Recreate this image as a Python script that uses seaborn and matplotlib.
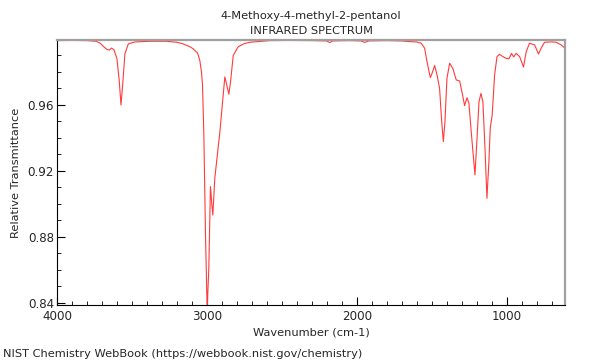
import numpy as np
import pandas as pd
import matplotlib
matplotlib.use("Agg")
import matplotlib.pyplot as plt
import seaborn as sns
from matplotlib.ticker import MultipleLocator

# spectrum points (wavenumber, relative transmittance)
wavenumber = [
    4000, 3900, 3800, 3740, 3713, 3690, 3665, 3651, 3636, 3620, 3600, 3585, 3573,
    3562, 3547, 3524, 3480, 3380, 3270, 3200, 3158, 3113, 3091, 3062, 3047, 3036,
    3029, 3020, 3009, 2998, 2987, 2976, 2967, 2960, 2947, 2913, 2891, 2880, 2867,
    2853, 2842, 2824, 2791, 2750, 2713, 2647, 2580, 2450, 2300, 2200, 2180, 2160,
    2050, 1970, 1947, 1920, 1800, 1700, 1647, 1600, 1569, 1547, 1531, 1509, 1498,
    1480, 1464, 1447, 1433, 1422, 1411, 1398, 1380, 1358, 1336, 1313, 1298, 1280,
    1264, 1251, 1236, 1211, 1196, 1184, 1171, 1158, 1144, 1131, 1118, 1109, 1096,
    1080, 1064, 1047, 1036, 1013, 1000, 984, 967, 953, 936, 913, 887, 869, 847,
    813, 787, 769, 747, 700, 669, 636, 610,
]
transmittance = [
    0.9990, 0.9991, 0.9990, 0.9986, 0.9975, 0.9955, 0.9935, 0.9933, 0.9945, 0.9935,
    0.9880, 0.9750, 0.9600, 0.9720, 0.9909, 0.9970, 0.9982, 0.9986, 0.9986, 0.9980,
    0.9970, 0.9953, 0.9940, 0.9915, 0.9870, 0.9800, 0.9720, 0.9418, 0.8810, 0.8360,
    0.8610, 0.9105, 0.9000, 0.8933, 0.9156, 0.9438, 0.9660, 0.9770, 0.9720, 0.9665,
    0.9740, 0.9900, 0.9953, 0.9972, 0.9980, 0.9985, 0.9990, 0.9991, 0.9990, 0.9988,
    0.9978, 0.9988, 0.9990, 0.9988, 0.9979, 0.9988, 0.9990, 0.9988, 0.9984, 0.9982,
    0.9974, 0.9944, 0.9863, 0.9766, 0.9790, 0.9839, 0.9782, 0.9700, 0.9500, 0.9378,
    0.9500, 0.9760, 0.9853, 0.9820, 0.9752, 0.9745, 0.9680, 0.9596, 0.9644, 0.9610,
    0.9438, 0.9176, 0.9418, 0.9620, 0.9670, 0.9620, 0.9337, 0.9034, 0.9256, 0.9459,
    0.9540, 0.9780, 0.9893, 0.9907, 0.9900, 0.9887, 0.9882, 0.9880, 0.9913, 0.9891,
    0.9913, 0.9893, 0.9830, 0.9923, 0.9974, 0.9964, 0.9909, 0.9944, 0.9980, 0.9982,
    0.9980, 0.9964, 0.9944,
]

spectrum = pd.DataFrame({"Wavenumber": wavenumber, "Transmittance": transmittance})

sns.set_style("white")
plt.rcParams["font.family"] = ["DejaVu Sans"]
plt.rcParams["font.size"] = 8.2

fig = plt.figure(figsize=(6, 3.6), dpi=100)
ax = fig.add_axes([0.095, 0.153, 0.8467, 0.736])

sns.lineplot(data=spectrum, x="Wavenumber", y="Transmittance", color="#ff3b3b",
             linewidth=0.8, ax=ax)

ax.set_xlim(4000, 610)
ax.set_ylim(0.8388, 0.9994)

ax.xaxis.set_major_locator(MultipleLocator(1000))
ax.xaxis.set_minor_locator(MultipleLocator(100))
ax.yaxis.set_major_locator(MultipleLocator(0.04))
ax.yaxis.set_minor_locator(MultipleLocator(0.01))
ax.yaxis.set_major_formatter(plt.FuncFormatter(lambda v, p: f"{v:.2f}"))

ax.tick_params(which="both", direction="in", top=False, right=False,
               bottom=True, left=True, labelsize=8.6, pad=2, color="black")
ax.tick_params(axis="x", which="both", pad=4)
ax.tick_params(which="major", length=6, width=0.8)
ax.tick_params(which="minor", length=3, width=0.6)

for side in ["left", "bottom"]:
    ax.spines[side].set_color("black")
    ax.spines[side].set_linewidth(0.8)
for side in ["top", "right"]:
    ax.spines[side].set_color("#a0a0a0")
    ax.spines[side].set_linewidth(1.6)

ax.set_xlabel("Wavenumber (cm-1)", fontsize=8.2, labelpad=3)
ax.set_ylabel("Relative Transmittance", fontsize=8.2, labelpad=5)
ax.set_title("4-Methoxy-4-methyl-2-pentanol\nINFRARED SPECTRUM", fontsize=8.2,
             linespacing=1.65, pad=4)

fig.text(0.005, 0.004, "NIST Chemistry WebBook (https://webbook.nist.gov/chemistry)",
         fontsize=8.2, ha="left", va="bottom")

fig.savefig("out.png", dpi=100)
